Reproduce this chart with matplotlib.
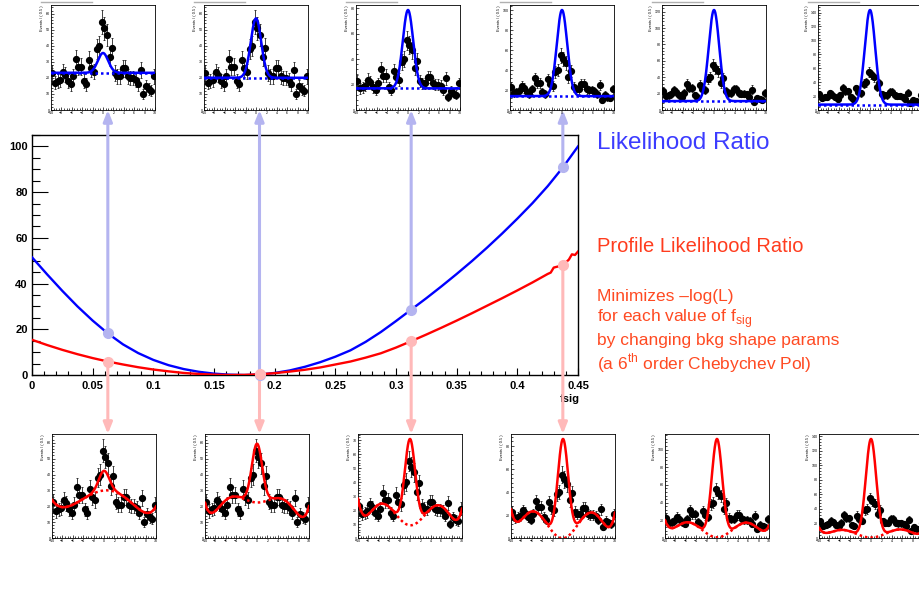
import numpy as np
import matplotlib
matplotlib.use("Agg")
import matplotlib.pyplot as plt
from matplotlib.lines import Line2D
from matplotlib.ticker import MultipleLocator, MaxNLocator, AutoMinorLocator

plt.rcParams['font.family'] = ['Liberation Sans', 'DejaVu Sans']
plt.rcParams['mathtext.fontset'] = 'custom'
plt.rcParams['mathtext.rm'] = 'Liberation Sans'

# ---------------- main scan ----------------
fsig_lr = [0.0, 0.0125, 0.025, 0.0375, 0.05, 0.0625, 0.075, 0.0875, 0.1, 0.1125,
           0.125, 0.1375, 0.15, 0.1625, 0.175, 0.1875, 0.2, 0.2125, 0.225, 0.2375,
           0.25, 0.2625, 0.275, 0.2875, 0.3, 0.3125, 0.325, 0.3375, 0.35, 0.3625,
           0.375, 0.3875, 0.4, 0.4125, 0.425, 0.4375, 0.45]
lr_vals = [51.5, 44.0, 36.8, 30.0, 23.8, 18.2, 13.4, 9.6, 6.6, 4.3,
           2.6, 1.4, 0.6, 0.15, 0.0, 0.2, 0.9, 2.0, 3.6, 5.6,
           8.0, 10.8, 14.5, 18.8, 23.6, 28.6, 33.6, 38.8, 44.2, 49.8,
           55.7, 61.9, 68.4, 75.2, 82.6, 90.8, 100.0]

fsig_plr = [0.0, 0.0125, 0.025, 0.0375, 0.05, 0.0625, 0.075, 0.0875, 0.1, 0.1125,
            0.125, 0.1375, 0.15, 0.1625, 0.175, 0.1875, 0.2, 0.2125, 0.225, 0.2375,
            0.25, 0.2625, 0.275, 0.2875, 0.3, 0.3125, 0.325, 0.3375, 0.35, 0.3625,
            0.375, 0.3875, 0.4, 0.4125, 0.425, 0.4275, 0.43, 0.4375, 0.4425, 0.445,
            0.4475, 0.45]
plr_vals = [15.4, 13.1, 11.0, 9.1, 7.4, 5.9, 4.6, 3.4, 2.4, 1.6,
            0.9, 0.45, 0.15, 0.0, 0.05, 0.3, 0.8, 1.5, 2.3, 3.3,
            4.6, 5.9, 7.6, 9.5, 12.0, 14.8, 17.7, 20.7, 23.8, 27.0,
            30.3, 33.6, 37.0, 40.5, 44.2, 44.8, 47.0, 48.0, 50.5, 52.8,
            52.5, 54.0]

# signal fractions of the six example fits (first four marked on the scan)
fsig_examples = [0.0625, 0.1875, 0.3125, 0.4375, 0.5625, 0.6875]
n_marked = 4

# ---------------- histogram shown in every small panel ----------------
bin_lo, bin_hi, bin_width = -10.0, 10.0, 0.5
counts = [23, 17, 18, 19, 24, 22, 18, 16, 21, 32,
          27, 27, 18, 16, 31, 26, 24, 38, 40, 55,
          51, 47, 33, 39, 23, 21, 21, 26, 26, 21,
          20, 20, 19, 16, 25, 10, 15, 13, 12, 21]
sig_mean, sig_width = 0.0, 1.0

# background shape of the profile fits (dotted red), read at these x
bkg_x = [-10, -8, -6, -4, -2, 0, 2, 4, 6, 8, 10]
bkg_prof = [
    [24, 19.5, 21, 24.5, 28, 30.5, 29, 25, 21, 15.5, 20],
    [22, 18, 22, 27, 26, 19, 25, 26, 21, 15, 20],
    [28, 17.5, 23, 23, 14, 8, 14, 20.5, 23, 15, 21],
    [25, 16, 23, 18, 5, 0, 6, 19, 21, 12, 22],
    [20, 13, 16, 16, 5, 0, 5, 15, 16, 11, 14],
    [14, 8, 10, 10, 4, -1, 4, 11, 10, 8, 10],
]

BLUE = '#0000ff'
RED = '#ff0000'
LBLUE = '#b4b4f0'
PINK = '#ffb9b9'

W, H = 919, 600
fig = plt.figure(figsize=(W / 100, H / 100), dpi=100)
fig.patch.set_facecolor('white')


def px_rect(x0, y0, x1, y1):
    return [x0 / W, 1 - y1 / H, (x1 - x0) / W, (y1 - y0) / H]


# ---------------- main axes ----------------
ax = fig.add_axes(px_rect(32, 135, 578, 375))
ax.plot(fsig_lr, lr_vals, color=BLUE, lw=1.7, zorder=3)
ax.plot(fsig_plr, plr_vals, color=RED, lw=1.7, zorder=3)
ax.set_xlim(0, 0.45)
ax.set_ylim(0, 105)
xt = [0, 0.05, 0.1, 0.15, 0.2, 0.25, 0.3, 0.35, 0.4, 0.45]
ax.set_xticks(xt, labels=[f'{v:g}' for v in xt], fontweight='bold', fontsize=8)
yt = [0, 20, 40, 60, 80, 100]
ax.set_yticks(yt, labels=[str(v) for v in yt], fontweight='bold', fontsize=8)
ax.xaxis.set_minor_locator(MultipleLocator(0.01))
ax.yaxis.set_minor_locator(MultipleLocator(5))
ax.tick_params(axis='y', which='major', direction='in', length=11.5, width=0.8, pad=3)
ax.tick_params(axis='y', which='minor', direction='in', length=5.8, width=0.8)
ax.tick_params(axis='x', which='major', direction='in', length=5.2, width=0.8, pad=4)
ax.tick_params(axis='x', which='minor', direction='in', length=2.6, width=0.8)
for s in ax.spines.values():
    s.set_linewidth(1.0)
ax.text(1.004, -0.078, 'fsig', transform=ax.transAxes, ha='right', va='top',
        fontweight='bold', fontsize=8)

lr_d = dict(zip(fsig_lr, lr_vals))
plr_d = dict(zip(fsig_plr, plr_vals))
top_tip = 1 - 110 / H
bot_tip = 1 - 434 / H
astyle = '-|>,head_length=0.55,head_width=0.22'
for fs in fsig_examples[:n_marked]:
    ax.annotate('', xy=(fs, top_tip), xycoords=('data', 'figure fraction'),
                xytext=(fs, lr_d[fs]), textcoords='data',
                arrowprops=dict(arrowstyle=astyle, color=LBLUE, lw=2.2,
                                shrinkA=0, shrinkB=0, mutation_scale=12),
                annotation_clip=False, zorder=4)
    ax.plot(fs, lr_d[fs], 'o', color=LBLUE, ms=7, zorder=6, clip_on=False)
    ax.annotate('', xy=(fs, bot_tip), xycoords=('data', 'figure fraction'),
                xytext=(fs, plr_d[fs]), textcoords='data',
                arrowprops=dict(arrowstyle=astyle, color=PINK, lw=2.2,
                                shrinkA=0, shrinkB=0, mutation_scale=12),
                annotation_clip=False, zorder=4)
    ax.plot(fs, plr_d[fs], 'o', color=PINK, ms=7, zorder=6, clip_on=False)

# ---------------- text ----------------
fig.text(597 / W, 1 - 143 / H, 'Likelihood Ratio', color='#3c3cff', fontsize=17.5,
         va='center', ha='left')
fig.text(597 / W, 1 - 247 / H, 'Profile Likelihood Ratio', color='#ff3c1e', fontsize=14.5,
         va='center', ha='left')
lines = ['Minimizes \u2013log(L)',
         'for each value of f$_\\mathregular{sig}$',
         'by changing bkg shape params',
         '(a 6$^\\mathregular{th}$ order Chebychev Pol)']
for i, t in enumerate(lines):
    fig.text(597 / W, 1 - (297 + 22 * i) / H, t, color='#ff4a22', fontsize=12.5,
             va='center', ha='left')

# ---------------- small panels ----------------
counts_a = np.array(counts, dtype=float)
centers = np.arange(bin_lo + bin_width / 2, bin_hi, bin_width)
ntot = counts_a.sum()
xf = np.linspace(bin_lo, bin_hi, 801)


def small_panel(rect, fs, color, bkg_curve):
    a = fig.add_axes(rect)
    a.errorbar(centers, counts_a, yerr=np.sqrt(counts_a), fmt='o', ms=4.2,
               color='black', ecolor='#222222', elinewidth=0.6, capsize=0.9,
               capthick=0.6, zorder=3)
    sig = fs * ntot * bin_width * np.exp(-0.5 * ((xf - sig_mean) / sig_width) ** 2) / (
        sig_width * np.sqrt(2 * np.pi))
    tot = bkg_curve + sig
    a.plot(xf, bkg_curve, color=color, lw=1.8, ls=(0, (1, 1.2)), zorder=4)
    a.plot(xf, tot, color=color, lw=1.8, zorder=5)
    top = 1.05 * max((counts_a + np.sqrt(counts_a)).max(), tot.max())
    a.set_xlim(bin_lo, bin_hi)
    a.set_ylim(0, top)
    a.xaxis.set_major_locator(MultipleLocator(2))
    a.xaxis.set_minor_locator(MultipleLocator(0.5))
    a.yaxis.set_major_locator(MaxNLocator(nbins=8, steps=[1, 2, 5, 10]))
    a.yaxis.set_minor_locator(AutoMinorLocator(5))
    a.tick_params(which='major', direction='in', length=2.2, width=0.5, labelsize=2.6, pad=1)
    a.tick_params(which='minor', direction='in', length=1.1, width=0.5)
    for s in a.spines.values():
        s.set_linewidth(0.6)
    a.set_ylabel('Events / ( 0.5 )', fontsize=2.8, loc='top', labelpad=1)
    return a


top_lefts = [51, 204, 356, 510, 662, 818]
bot_lefts = [52, 205, 358, 511, 665, 819]
pw = 104
for i, fs in enumerate(fsig_examples):
    x0 = top_lefts[i]
    flat = np.full_like(xf, (1 - fs) * ntot / len(counts_a))
    small_panel(px_rect(x0, 5, x0 + pw, 110), fs, BLUE, flat)
    fig.add_artist(Line2D([(x0 - 10) / W, (x0 + 41) / W], [1 - 2 / H, 1 - 2 / H],
                          color='#b0b0b0', lw=1.0))
    x0 = bot_lefts[i]
    cheb = np.polynomial.Chebyshev.fit(bkg_x, bkg_prof[i], 6, domain=[bin_lo, bin_hi])
    small_panel(px_rect(x0, 434, x0 + pw, 538), fs, RED, cheb(xf))

fig.savefig('out.png', dpi=100, facecolor='white')
